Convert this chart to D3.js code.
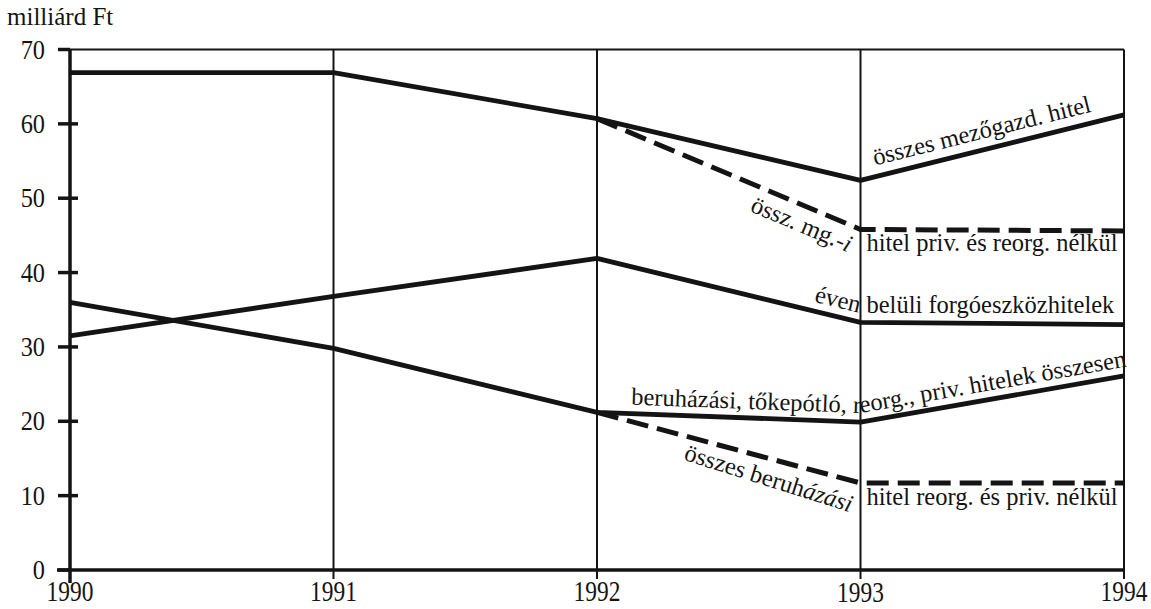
<!DOCTYPE html>
<html><head><meta charset="utf-8">
<script src="https://cdn.jsdelivr.net/npm/d3@7"></script>
<style>
html,body{margin:0;padding:0;background:#fff;}
svg text{font-family:'Liberation Serif','Times New Roman','DejaVu Serif',serif;fill:#141414;}
</style></head>
<body><svg id="c" width="1151" height="609" font-family="Liberation Serif, Times New Roman, serif"></svg>
<script>
// ---- data ----
const years = [1990, 1991, 1992, 1993, 1994];
const yTicks = [0, 10, 20, 30, 40, 50, 60, 70];
const totalCredit = [66.9, 66.9, 60.7, 52.4, 61.2];          // összes mezőgazd. hitel
const totalExclYears = [1992, 1993, 1994];
const totalExcl = [60.7, 45.8, 45.6];                          // össz. mg.-i hitel priv. és reorg. nélkül
const shortTerm = [31.5, 36.8, 41.9, 33.3, 33.0];             // éven belüli forgóeszközhitelek
const investAll = [36.0, 29.8, 21.2, 19.9, 26.1];             // beruházási, tőkepótló, reorg., priv. hitelek összesen
const investExclYears = [1992, 1993, 1994];
const investExcl = [21.2, 11.7, 11.7];                         // összes beruházási hitel reorg. és priv. nélkül
const yUnit = "milliárd Ft";

const svg = d3.select("#c");
const ink = "#141414";
const FONT = "Liberation Serif";
const x = d3.scaleLinear().domain([1990, 1994]).range([70, 1124]);
const y = d3.scaleLinear().domain([0, 70]).range([570, 49.5]);

function txt(sel) { return sel.append("text").attr("font-family", FONT).attr("fill", ink); }

// ---- frame ----
const g = svg.append("g");
years.slice(1).forEach(yr => {
  g.append("line").attr("x1", x(yr)).attr("x2", x(yr))
   .attr("y1", y(70)).attr("y2", y(0) + 9)
   .attr("stroke", ink).attr("stroke-width", 2);
});
g.append("line").attr("x1", 58).attr("x2", x(1994)).attr("y1", y(70)).attr("y2", y(70))
 .attr("stroke", ink).attr("stroke-width", 2);
g.append("line").attr("x1", x(1990)).attr("x2", x(1990)).attr("y1", y(70)).attr("y2", y(0) + 13)
 .attr("stroke", ink).attr("stroke-width", 3.5);
g.append("line").attr("x1", 57).attr("x2", x(1994)).attr("y1", y(0)).attr("y2", y(0))
 .attr("stroke", ink).attr("stroke-width", 3.5);
yTicks.forEach(v => {
  g.append("line").attr("x1", 58).attr("x2", v === 0 || v === 70 ? x(1990) : x(1990) + 8)
   .attr("y1", y(v)).attr("y2", y(v)).attr("stroke", ink).attr("stroke-width", 3.5);
  txt(g).attr("transform", `translate(45,${y(v) + 9}) scale(0.9,1)`)
   .attr("text-anchor", "end").attr("font-size", 27).text(v);
});
years.forEach(yr => {
  txt(g).attr("transform", `translate(${x(yr)},${601 + (yr === 1993 ? 1 : 0)}) scale(0.78,1)`)
   .attr("text-anchor", "middle").attr("font-size", 30).text(yr);
});
txt(g).attr("x", 7).attr("y", 25).attr("font-size", 25).text(yUnit);

// ---- series ----
const line = d3.line().x(d => x(d[0])).y(d => y(d[1]));
function drawSeries(xs, vs, dashed) {
  svg.append("path").datum(xs.map((v, i) => [v, vs[i]]))
    .attr("d", line).attr("fill", "none").attr("stroke", ink)
    .attr("stroke-width", dashed ? 5 : 4.8)
    .attr("stroke-linejoin", "round")
    .attr("stroke-dasharray", dashed ? "22,9" : null);
}
drawSeries(years, totalCredit, false);
drawSeries(totalExclYears, totalExcl, true);
drawSeries(years, shortTerm, false);
drawSeries(years, investAll, false);
drawSeries(investExclYears, investExcl, true);

// ---- labels ----
const FS = 24.5;
function segLabel(xs, vs, i, t, off, parts, anchor, extraAngle) {
  const p1 = [x(xs[i]), y(vs[i])], p2 = [x(xs[i + 1]), y(vs[i + 1])];
  const px = p1[0] + t * (p2[0] - p1[0]), py = p1[1] + t * (p2[1] - p1[1]);
  const ang = Math.atan2(p2[1] - p1[1], p2[0] - p1[0]) * 180 / Math.PI + (extraAngle || 0);
  const tx = txt(svg).attr("transform", `translate(${px},${py}) rotate(${ang})`)
    .attr("y", off).attr("text-anchor", anchor).attr("font-size", FS);
  parts.forEach(p => tx.append("tspan").attr("font-style", p[1] ? "italic" : null).text(p[0]));
}
segLabel(years, totalCredit, 3, 0.065, -11, [["összes mezőgazd. hitel"]], "start", 0);
segLabel(totalExclYears, totalExcl, 0, 0.99, 26, [["össz. mg.-"], ["i", true]], "end", 0);
segLabel(years, shortTerm, 2, 0.985, -9, [["éven"]], "end", 0);
segLabel(investExclYears, investExcl, 0, 0.995, 31, [["összes beruh"], ["ázási", true]], "end", 2.5);

function hLabel(xv, v, dy, s) {
  txt(svg).attr("x", x(xv) + 6).attr("y", y(v) + dy).attr("font-size", FS).text(s);
}
hLabel(1993, totalExcl[1], 22, "hitel priv. és reorg. nélkül");
hLabel(1993, shortTerm[3], -9, "belüli forgóeszközhitelek");
hLabel(1993, investExcl[1], 22, "hitel reorg. és priv. nélkül");

const pPts = [2, 3, 4].map(i => [x(years[i]), y(investAll[i]) - 9]);
const dx = pPts[2][0] - pPts[1][0], dyv = pPts[2][1] - pPts[1][1], L = Math.hypot(dx, dyv);
pPts.push([pPts[2][0] + dx / L * 40, pPts[2][1] + dyv / L * 40]);
svg.append("defs").append("path").attr("id", "invPath").attr("d", d3.line()(pPts));
txt(svg).attr("font-size", FS)
  .append("textPath").attr("href", "#invPath").attr("startOffset", 34)
  .text("beruházási, tőkepótló, reorg., priv. hitelek összesen");
</script></body></html>
